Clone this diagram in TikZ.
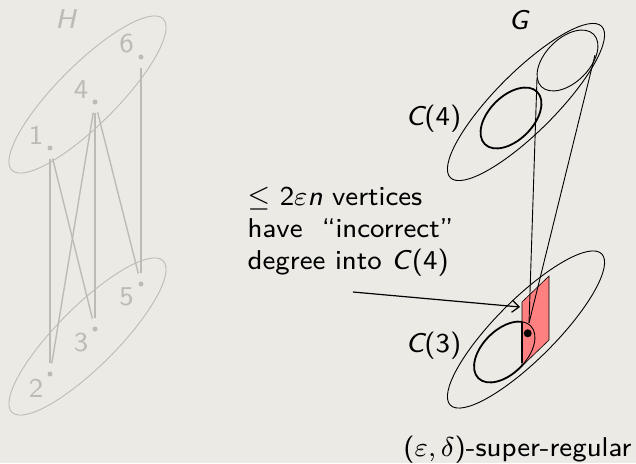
\documentclass[tikz,border=0pt]{standalone}
\usetikzlibrary{shapes.geometric,arrows.meta}
\definecolor{bg}{RGB}{235,234,229}
\definecolor{hgray}{RGB}{188,187,182}
\definecolor{redfill}{RGB}{255,128,128}
\begin{document}
\begin{tikzpicture}[x=1pt,y=-1pt,
  font=\sffamily\fontsize{8}{10}\selectfont,
  txt/.style={scale=3.4, inner sep=0pt},
  bigell/.style={draw, ellipse, minimum width=214pt, minimum height=60pt, inner sep=0pt, rotate=45, line width=0.9pt},
  smallell/.style={draw, ellipse, minimum width=74pt, minimum height=44pt, inner sep=0pt, rotate=45, line width=0.9pt},
  hell/.style={bigell, draw=hgray},
  hdot/.style={circle, fill=hgray, minimum size=5pt, inner sep=0pt},
  hedge/.style={hgray, line width=1.4pt, shorten <=8pt, shorten >=8pt},
  hlab/.style={txt, text=hgray},
  thin line/.style={line width=0.9pt}]
\fill[bg] (0,0) rectangle (636,463);
\useasboundingbox (0,0) rectangle (636,463);
% ---------- H ----------
\node[hlab] (Hlab) at (65.5,19) {\itshape H};
\node[hell] (Htop) at (87.5,94.5) {};
\node[hell] (Hbot) at (87.5,336.5) {};
\node[hdot] (v1) at (50,148) {};
\node[hdot] (v4) at (95,102) {};
\node[hdot] (v6) at (141,57) {};
\node[hdot] (v2) at (50,374) {};
\node[hdot] (v3) at (95,329) {};
\node[hdot] (v5) at (141,284) {};
\node[hlab] (l1) at (36,135) {1};
\node[hlab] (l4) at (81,90) {4};
\node[hlab] (l6) at (126.5,44) {6};
\node[hlab] (l2) at (36,388) {2};
\node[hlab] (l3) at (81,343) {3};
\node[hlab] (l5) at (126.5,297) {5};
\draw[hedge] (v1) -- (v2);
\draw[hedge] (v1) -- (v3);
\draw[hedge] (v4) -- (v2);
\draw[hedge] (v4) -- (v3);
\draw[hedge] (v4) -- (v5);
\draw[hedge] (v6) -- (v5);
% ---------- G ----------
\node[txt] (Glab) at (518.5,20.5) {\itshape G};
\node[bigell] (Gtop) at (526,102) {};
\node[bigell] (Gbot) at (526,329.5) {};
\node[smallell, line width=1.8pt] (C4) at (511,118) {};
\node[smallell] (X) at (567.5,60.5) {};
\node[smallell, line width=1.8pt] (C3) at (504.5,352) {};
\node[txt, anchor=base east] (C4lab) at (462,125) {\itshape C\upshape(4)};
\node[txt, anchor=base east] (C3lab) at (462,352) {\itshape C\upshape(3)};
% red region
\filldraw[fill=redfill, draw=black, line width=0.6pt] (522,302) -- (549,276) -- (549,340) -- (522,366) -- cycle;
\begin{scope}
  \clip (522,302) -- (549,276) -- (549,340) -- (522,366) -- cycle;
  \draw[thin line, rotate around={45:(504.5,352)}] (504.5,352) ellipse [x radius=37, y radius=22];
\end{scope}
\draw[line width=1.4pt] (522,322) -- (522,363);
\node[circle, fill=black, minimum size=8pt, inner sep=0pt] (d) at (527.7,333.3) {};
\coordinate (apex) at (529,323);
\coordinate (t1) at (537,78);
\coordinate (t2) at (595,55);
\draw[thin line] (t1) -- (apex);
\draw[thin line] (t2) -- (apex);
% note
\node[txt, anchor=base west] (n1) at (247,205) {$\leq$ 2$\varepsilon$\textit{n} vertices};
\node[txt, anchor=base west] (n2) at (247,237.5) {have~ ``incorrect''};
\node[txt, anchor=base west] (n3) at (247,269.5) {degree into \textit{C}(4)};
\coordinate (astart) at (353,292);
\coordinate (aend) at (520,307);
\draw[line width=1.2pt, -{Straight Barb[length=7pt,width=12pt]}] (astart) -- (aend);
\node[txt, anchor=base] (sr) at (517.5,456) {($\varepsilon,\delta$)-super-regular};
\end{tikzpicture}
\end{document}
